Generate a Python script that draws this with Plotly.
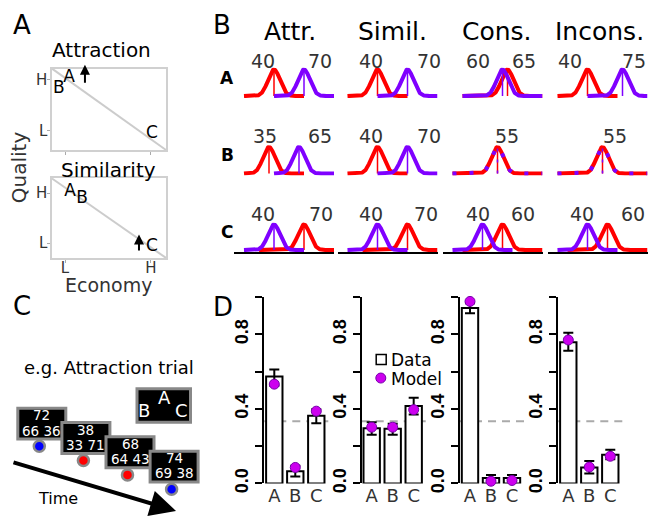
import numpy as np
import plotly.graph_objects as go

W, H = 648, 517
FONT = "DejaVu Sans"
BOLD_FONT = "Liberation Sans"
RED = "#ff0000"
PURPLE = "#7f00ff"
MODEL_COLOR = "#cc00ee"
GRAY_TXT = "#333333"

# ---------------- Panel A: option positions (economy, quality), 0-1 scale ----------------
option_names = ["A", "B", "C"]
attraction_economy = [0.149, 0.061, 0.877]
attraction_quality = [0.892, 0.747, 0.205]
similarity_economy = [0.158, 0.263, 0.877]
similarity_quality = [0.827, 0.741, 0.136]
attraction_arrow = [0.289, 0.807, 1.048]   # economy, quality from, quality to
similarity_arrow = [0.763, 0.074, 0.296]
level_labels = ["L", "H"]

# ---------------- Panel B: attribute distributions ----------------
conditions_short = ["Attr.", "Simil.", "Cons.", "Incons."]
row_options = ["A", "B", "C"]
red_means = [[40, 40, 65, 40], [35, 40, 55, 55], [70, 70, 60, 60]]
purple_means = [[70, 70, 60, 75], [65, 70, 55, 55], [40, 40, 40, 40]]
red_span = [[(10, 70), (10, 70), (20, 100), (10, 70)],
            [(10, 70), (10, 70), (10, 100), (10, 100)],
            [(25, 100), (25, 100), (20, 100), (20, 100)]]
purple_span = [[(40, 100), (40, 100), (20, 100), (40, 100)],
               [(40, 100), (40, 100), (10, 100), (10, 100)],
               [(10, 70), (10, 70), (10, 70), (10, 70)]]
curve_sd = 6

# ---------------- Panel C: example trial ----------------
trial_top = [72, 38, 68, 74]
trial_left = [66, 33, 64, 69]
trial_right = [36, 71, 43, 38]
trial_choice = ["blue", "red", "red", "blue"]

# ---------------- Panel D: choice proportions ----------------
bar_labels = ["A", "B", "C"]
data_vals = [[0.574, 0.065, 0.363], [0.296, 0.293, 0.416],
             [0.942, 0.030, 0.030], [0.758, 0.086, 0.154]]
err_hi = [[0.612, 0.095, 0.398], [0.328, 0.321, 0.460],
          [0.967, 0.046, 0.046], [0.809, 0.121, 0.181]]
err_lo = [[0.525, 0.037, 0.323], [0.261, 0.261, 0.370],
          [0.914, 0.016, 0.014], [0.712, 0.054, 0.130]]
model_vals = [[0.533, 0.086, 0.388], [0.302, 0.302, 0.396],
              [0.977, 0.012, 0.016], [0.770, 0.088, 0.146]]
chance_level = 1 / 3

# ======================================================================
fig = go.Figure()
layout = dict(width=W, height=H, margin=dict(l=0, r=0, t=0, b=0),
              paper_bgcolor="white", plot_bgcolor="rgba(0,0,0,0)",
              showlegend=False, font=dict(family=FONT, color=GRAY_TXT))
shapes, annotations = [], []
_count = [0]


def new_axes(xpx, ypx, xkw, ykw):
    _count[0] += 1
    k = _count[0]
    s = "" if k == 1 else str(k)
    layout["xaxis" + s] = dict(domain=[xpx[0] / W, xpx[1] / W], anchor="y" + s,
                               fixedrange=True, **xkw)
    layout["yaxis" + s] = dict(domain=[1 - ypx[1] / H, 1 - ypx[0] / H], anchor="x" + s,
                               fixedrange=True, **ykw)
    return "x" + s, "y" + s


def txt(xp, yp, s, size, color="black", bold=False, xanchor="center", angle=0, family=FONT):
    annotations.append(dict(x=xp / W, y=1 - yp / H, xref="paper", yref="paper", text=s,
                            showarrow=False, textangle=angle, xanchor=xanchor, yanchor="middle",
                            font=dict(family=family, size=size, color=color,
                                      weight="bold" if bold else "normal")))


# panel letters
txt(22, 25, "A", 26)
txt(222, 25, "B", 26)
txt(22, 312, "C", 26)
txt(223, 313, "D", 26)

# ---------------- Panel A ----------------
panelA = [
    dict(title="Attraction", tpos=(101.5, 51), ypx=(70, 153), yt=[0.241, 0.867], xt=[0.114, 0.868],
         showx=False, econ=attraction_economy, qual=attraction_quality, arrow=attraction_arrow),
    dict(title="Similarity", tpos=(108, 173), ypx=(182, 263), yt=[0.185, 0.815], xt=[0.114, 0.868],
         showx=True, econ=similarity_economy, qual=similarity_quality, arrow=similarity_arrow),
]
for p in panelA:
    common = dict(range=[0, 1], showgrid=False, zeroline=False, showline=True, mirror=True,
                  linecolor="#d0d0d0", linewidth=1.5, ticks="outside", ticklen=3,
                  tickcolor="#aaaaaa", tickwidth=1, ticktext=level_labels,
                  tickfont=dict(size=15, color=GRAY_TXT, family=FONT))
    xa, ya = new_axes((52, 166), p["ypx"],
                      dict(common, tickvals=p["xt"], showticklabels=p["showx"], ticklabelstandoff=-8),
                      dict(common, tickvals=p["yt"], ticklabelstandoff=-3))
    shapes.append(dict(type="line", xref=xa + " domain", yref=ya + " domain", x0=0, y0=1, x1=1, y1=0,
                       line=dict(color="#cccccc", width=2), layer="below"))
    fig.add_trace(go.Scatter(x=p["econ"], y=p["qual"], mode="text", text=option_names,
                             textfont=dict(size=17, color="black", family=FONT),
                             xaxis=xa, yaxis=ya, cliponaxis=False, hoverinfo="skip"))
    a = p["arrow"]
    annotations.append(dict(x=a[0], y=a[2], ax=a[0], ay=a[1], xref=xa, yref=ya, axref=xa, ayref=ya,
                            text="", showarrow=True, arrowhead=2, arrowsize=1, arrowwidth=2,
                            arrowcolor="black"))
    txt(p["tpos"][0], p["tpos"][1], p["title"], 20)

txt(18.5, 171, "Quality", 20, color=GRAY_TXT, angle=-90)
txt(108.5, 291, "Economy", 19, color=GRAY_TXT)

# ---------------- Panel B ----------------
col_x0 = [234.0, 337.5, 442.5, 547.5]
col_title_x = [289.5, 392.5, 497, 599]
row_base = [98, 177, 255]
row_peak = [71, 150, 229]
row_label_y = [80, 158, 237]
lab_x = [
    [[263, 320], [370.5, 428.5], [477.5, 523.5], [570, 633.5]],
    [[264.5, 320], [370.5, 428.5], [506.5], [615]],
    [[263.3, 321], [371, 426], [478, 523], [581.7, 633]],
]
lab_y = [62, 138.3, 218.3]

for c, t in enumerate(conditions_short):
    txt(col_title_x[c], 32.5, t, 25)
for r, name in enumerate(row_options):
    txt(227, row_label_y[r], name, 17, bold=True)


def gauss(lo, hi, m):
    x = np.linspace(lo, hi, 241)
    return x, np.exp(-(x - m) ** 2 / (2 * curve_sd ** 2))


for r in range(3):
    b, pk = row_base[r], row_peak[r]
    top, bot = pk - 8, b + 2
    yr = [(b - bot) / (b - pk), (b - top) / (b - pk)]
    for c in range(4):
        if r == 2:
            xkw = dict(range=[0, 100], showgrid=False, zeroline=False, showline=True,
                       linecolor="black", linewidth=1.5, ticks="", showticklabels=False)
        else:
            xkw = dict(range=[0, 100], visible=False)
        xa, ya = new_axes((col_x0[c], col_x0[c] + 100), (top, bot), xkw,
                          dict(range=yr, visible=False))
        same = red_means[r][c] == purple_means[r][c]
        for means, spans, col in ((red_means, red_span, RED), (purple_means, purple_span, PURPLE)):
            m = means[r][c]
            lo, hi = spans[r][c]
            dash = "4px,13px" if (same and col == PURPLE) else "solid"
            gx, gy = gauss(lo, hi, m)
            fig.add_trace(go.Scatter(x=gx, y=gy, mode="lines", line=dict(color=col, width=4, dash=dash),
                                     xaxis=xa, yaxis=ya, hoverinfo="skip", cliponaxis=False))
            fig.add_trace(go.Scatter(x=[m, m], y=[0, 1], mode="lines",
                                     line=dict(color=col, width=1.5, dash="3px,8px" if dash != "solid" else "solid"),
                                     xaxis=xa, yaxis=ya, hoverinfo="skip", cliponaxis=False))
        labels = sorted(set([red_means[r][c], purple_means[r][c]]))
        for lx, lv in zip(lab_x[r][c], labels):
            txt(lx, lab_y[r], str(lv), 19, color=GRAY_TXT)

# ---------------- Panel D ----------------
d_axis_x = [264.3, 361.7, 460.0, 558.3]
for i in range(4):
    xa, ya = new_axes((d_axis_x[i], d_axis_x[i] + 66), (303, 493),
                      dict(range=[-0.476, 2.667], tickvals=[0, 1, 2], ticktext=bar_labels,
                           showgrid=False, zeroline=False, showline=False, ticks="",
                           tickfont=dict(size=18, color=GRAY_TXT, family=FONT)),
                      dict(range=[0, 1], tickvals=[0, 0.2, 0.4, 0.6, 0.8, 1.0],
                           ticktext=["0.0", "", "0.4", "", "0.8", ""], tickangle=-90,
                           showgrid=False, zeroline=False, showline=True, linecolor="black",
                           linewidth=2, ticks="outside", ticklen=7, tickwidth=2, tickcolor="black",
                           tickfont=dict(size=18, color="black", family=BOLD_FONT, weight="bold")))
    shapes.append(dict(type="line", xref=xa + " domain", yref=ya, x0=0, x1=1,
                       y0=chance_level, y1=chance_level, layer="below",
                       line=dict(color="#aaaaaa", width=2, dash="8px,6px")))
    v = data_vals[i]
    fig.add_trace(go.Bar(x=[0, 1, 2], y=v, width=0.78, xaxis=xa, yaxis=ya, cliponaxis=False,
                         marker=dict(color="white", line=dict(color="black", width=2)),
                         error_y=dict(type="data", symmetric=False,
                                      array=[h - d for h, d in zip(err_hi[i], v)],
                                      arrayminus=[d - l for d, l in zip(v, err_lo[i])],
                                      color="black", thickness=2, width=5),
                         hoverinfo="skip"))
    fig.add_trace(go.Scatter(x=[0, 1, 2], y=model_vals[i], mode="markers", xaxis=xa, yaxis=ya,
                             cliponaxis=False, hoverinfo="skip",
                             marker=dict(size=10, color=MODEL_COLOR, line=dict(color="#7700aa", width=1))))

# ---------------- Overlay (pixel) axes: panel C + legend ----------------
ox, oy = new_axes((0, W), (0, H), dict(range=[0, W], visible=False), dict(range=[H, 0], visible=False))

# legend for panel D
fig.add_trace(go.Scatter(x=[381.2], y=[366.7], mode="markers", xaxis=ox, yaxis=oy, hoverinfo="skip",
                         marker=dict(symbol="square", size=10, color="white", line=dict(color="black", width=1.5))))
fig.add_trace(go.Scatter(x=[380.8], y=[385.5], mode="markers", xaxis=ox, yaxis=oy, hoverinfo="skip",
                         marker=dict(size=10, color=MODEL_COLOR, line=dict(color="#7700aa", width=1))))
txt(389, 367, "Data", 17, xanchor="left")
txt(389, 386, "Model", 17, xanchor="left")

# panel C
txt(109, 375, "e.g. Attraction trial", 18)
BOX_CX0, BOX_DX, BOX_CY0, BOX_DY, BOX_W, BOX_H = 41.8, 44.1, 432.0, 14.6, 48.0, 31.5
dot_x, dot_y, dot_c = [], [], []
for i in range(len(trial_top)):
    cx, cy = BOX_CX0 + i * BOX_DX, BOX_CY0 + i * BOX_DY
    shapes.append(dict(type="rect", xref=ox, yref=oy, x0=cx - BOX_W / 2, x1=cx + BOX_W / 2,
                       y0=cy - BOX_H / 2, y1=cy + BOX_H / 2, fillcolor="black",
                       line=dict(color="#888888", width=3), layer="above"))
    txt(cx, cy - 8.5, str(trial_top[i]), 13.5, color="white")
    txt(cx, cy + 7, f"{trial_left[i]} {trial_right[i]}", 13.5, color="white")
    dot_x.append(cx - 2.5)
    dot_y.append(cy + BOX_H / 2 + 7.3)
    dot_c.append("#0000ff" if trial_choice[i] == "blue" else "#ff0000")
fig.add_trace(go.Scatter(x=dot_x, y=dot_y, mode="markers", xaxis=ox, yaxis=oy, hoverinfo="skip",
                         marker=dict(size=11, color=dot_c, line=dict(color="#888888", width=2.5))))

# layout box (B A C)
shapes.append(dict(type="rect", xref=ox, yref=oy, x0=137, x1=190.5, y0=396.5, y1=430.5,
                   fillcolor="black", line=dict(color="#888888", width=3), layer="above"))
txt(164, 405.5, "A", 18, color="white")
txt(144, 419, "B", 18, color="white")
txt(181.5, 419, "C", 18, color="white")

# time arrow
annotations.append(dict(x=176, y=521, ax=12, ay=471, xref=ox, yref=oy, axref=ox, ayref=oy,
                        text="", showarrow=True, arrowhead=2, arrowsize=1.3, arrowwidth=4,
                        arrowcolor="black"))
txt(58, 508, "Time", 16)

layout["shapes"] = shapes
layout["annotations"] = annotations
fig.update_layout(**layout)
fig.write_html("out.html", config={"displayModeBar": False},
               post_script="document.body.style.margin='0';document.body.style.padding='0';")
